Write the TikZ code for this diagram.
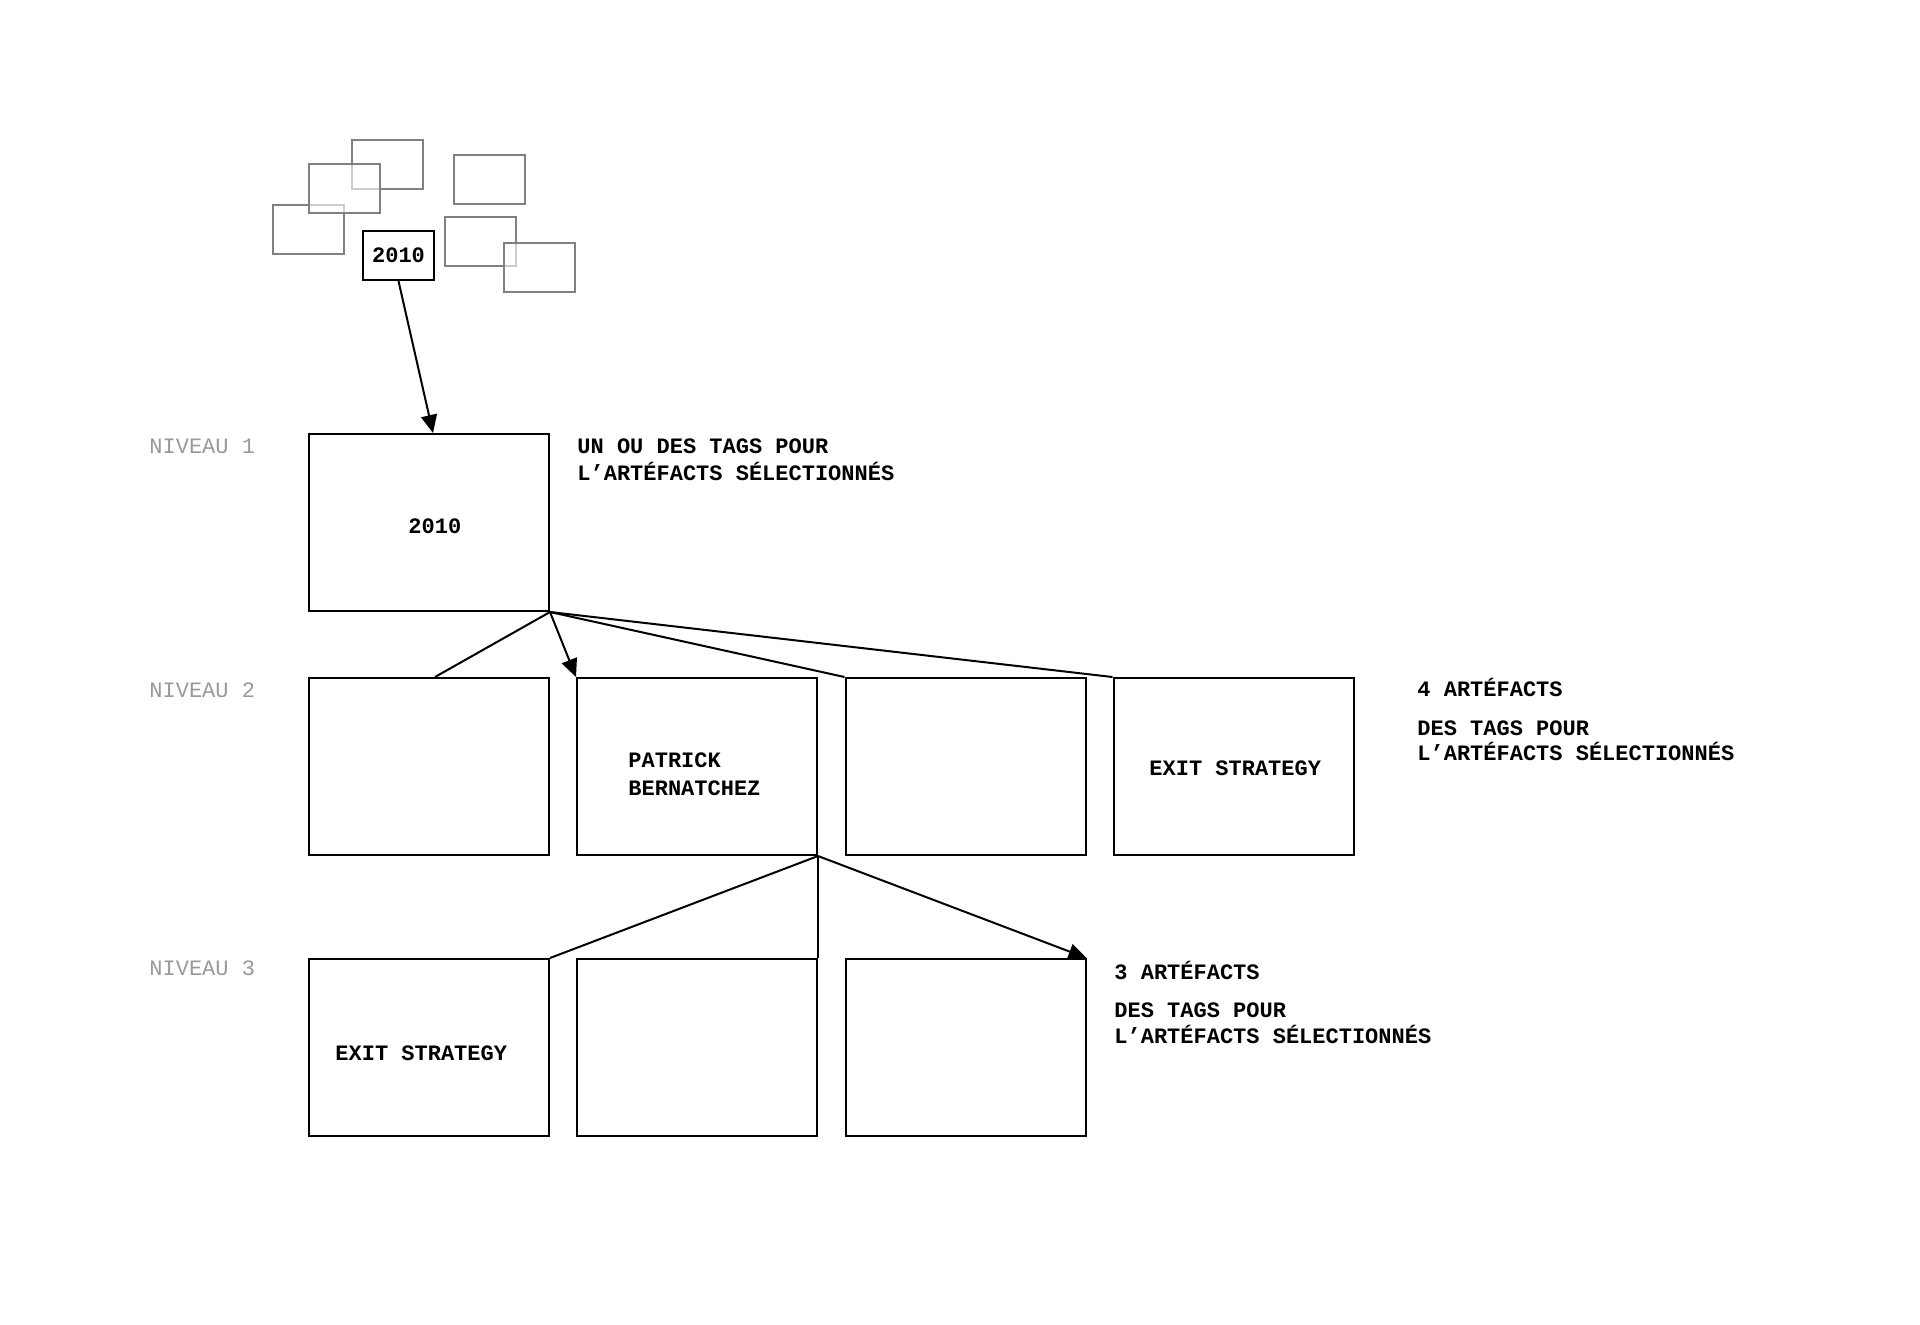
\documentclass[tikz,border=0pt]{standalone}
\usepackage{fontspec}
\setmonofont{Liberation Mono}
\usetikzlibrary{arrows.meta}
\tikzset{
  box/.style={draw,line width=1pt,minimum width=120pt,minimum height=88.5pt,inner sep=0pt},
  tag/.style={font=\ttfamily\bfseries\fontsize{11}{13}\selectfont,anchor=base west,inner sep=0pt},
  level/.style={font=\ttfamily\fontsize{11}{13}\selectfont,text=black!40,anchor=base west,inner sep=0pt},
  ghost/.style={draw=black!50,line width=0.9pt,fill=white,fill opacity=0.6},
  link/.style={line width=1pt},
  arr/.style={line width=1pt,-{Triangle[length=9pt,width=8pt]}}
}
\begin{document}
\begin{tikzpicture}[x=0.5pt,y=-0.5pt]
\useasboundingbox (0,0) rectangle (1920,1324);
% nuage d'artefacts
\foreach \x/\y in {273/205,352/140,309/164,454/155,445/217,504/243}
  \draw[ghost] (\x,\y) rectangle ++(71,49);
\node[box,minimum width=35.5pt,minimum height=24.5pt,font=\ttfamily\bfseries\fontsize{11}{13}\selectfont] (choix) at (398.5,255.5) {2010};
% niveaux
\foreach \n/\y in {1/453,2/697,3/975}
  \node[level] (niv\n) at (149,\y) {NIVEAU \n};
\node[box] (l1) at (429,522.5) {};
\foreach \c/\x in {a/429,b/697,c/965.5,d/1233.5}
  \node[box] (l2\c) at (\x,766.5) {};
\foreach \c/\x in {a/429,b/697,c/965.5}
  \node[box] (l3\c) at (\x,1047.5) {};
% textes des boites
\node[tag] (t1) at (408,533) {2010};
\node[tag] (t2a) at (628,767) {PATRICK};
\node[tag] (t2b) at (628,795) {BERNATCHEZ};
\node[tag] (t2d) at (1149,775) {EXIT STRATEGY};
\node[tag] (t3a) at (335,1060) {EXIT STRATEGY};
% notes
\node[tag] (n1a) at (577,453) {UN OU DES TAGS POUR};
\node[tag] (n1b) at (577,480) {L’ARTÉFACTS SÉLECTIONNÉS};
\node[tag] (n2a) at (1417,696) {4 ARTÉFACTS};
\node[tag] (n2b) at (1417,735) {DES TAGS POUR};
\node[tag] (n2c) at (1417,760) {L’ARTÉFACTS SÉLECTIONNÉS};
\node[tag] (n3a) at (1114,979) {3 ARTÉFACTS};
\node[tag] (n3b) at (1114,1017) {DES TAGS POUR};
\node[tag] (n3c) at (1114,1043) {L’ARTÉFACTS SÉLECTIONNÉS};
% liens
\draw[arr] (choix.south) -- ([xshift=2pt]l1.north);
\draw[link] (l1.south east) -- ([xshift=3pt]l2a.north);
\draw[arr] (l1.south east) -- (l2b.north west);
\foreach \c in {c,d} \draw[link] (l1.south east) -- (l2\c.north west);
\draw[link] (l2b.south east) -- (l3a.north east);
\draw[link] (l2b.south east) -- (l3b.north east);
\draw[arr] (l2b.south east) -- (l3c.north east);
\end{tikzpicture}
\end{document}
